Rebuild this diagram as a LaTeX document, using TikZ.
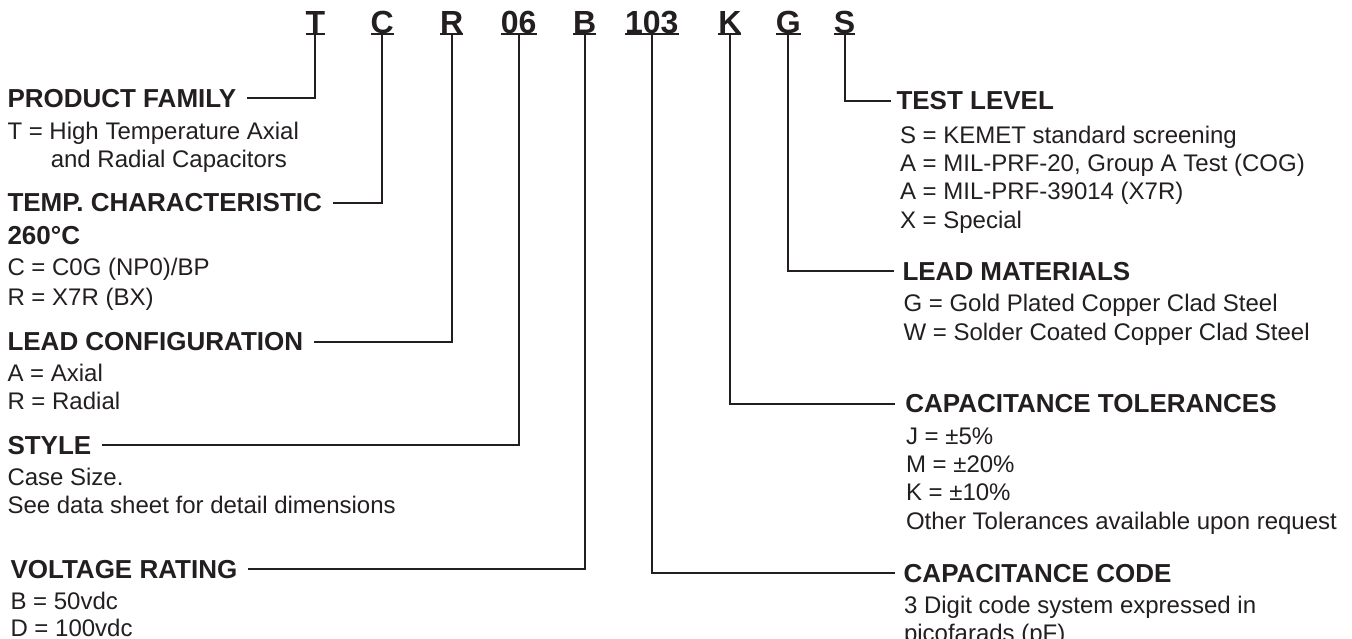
\documentclass[tikz,border=0pt]{standalone}
\usepackage{fontspec}
\setmainfont{Liberation Sans}
\definecolor{ink}{HTML}{231F20}
\begin{document}
\begin{tikzpicture}[x=1pt,y=-1pt,
  every node/.style={inner sep=0pt, outer sep=0pt, anchor=base west, text=ink},
  hd/.style={font=\fontsize{26}{30}\selectfont\bfseries},
  bd/.style={font=\fontsize{24}{28}\selectfont},
  codelet/.style={anchor=base, font=\fontsize{32}{36}\selectfont\bfseries},
  conn/.style={draw=ink, line width=2pt, shorten >=11pt},
  ul/.style={draw=ink, line width=2pt}]
\useasboundingbox[fill=white] (0,0) rectangle (1352,639);

% code letters
\node[codelet] (cT) at (315.4,33.3) {T};
\node[codelet] (cC) at (382.2,33.3) {C};
\node[codelet] (cR) at (451.7,33.3) {R};
\node[codelet] (c06) at (518.7,33.3) {06};
\node[codelet] (cB) at (584.6,33.3) {B};
\node[codelet] (c103) at (651.8,33.3) {103};
\node[codelet] (cK) at (729.8,33.3) {K};
\node[codelet] (cG) at (788.3,33.3) {G};
\node[codelet] (cS) at (844.6,33.3) {S};
\foreach \n in {cT,cC,cR,c06,cB,c103,cK,cG,cS}
  \draw[ul] ([yshift=-1pt]\n.base west) -- ([yshift=-1pt]\n.base east);

% left column
\node[hd] (pf) at (7.5,107.3) {PRODUCT FAMILY};
\node[bd] (pf1) at (7.5,139.3) {T = High Temperature Axial};
\node[bd] (pf2) at (50.8,167.3) {and Radial Capacitors};
\node[hd] (tc) at (7.5,211.7) {TEMP. CHARACTERISTIC};
\node[hd] (tc0) at (7.5,244) {260°C};
\node[bd] (tc1) at (7.5,276) {C = C0G (NP0)/BP};
\node[bd] (tc2) at (7.5,305) {R = X7R (BX)};
\node[hd] (lc) at (7.5,350.5) {LEAD CONFIGURATION};
\node[bd] (lc1) at (7.5,381.7) {A = Axial};
\node[bd] (lc2) at (7.5,409.3) {R = Radial};
\node[hd] (st) at (7.5,454) {STYLE};
\node[bd] (st1) at (7.5,485) {Case Size.};
\node[bd] (st2) at (7.5,513.3) {See data sheet for detail dimensions};
\node[hd] (vr) at (10.5,578.3) {VOLTAGE RATING};
\node[bd] (vr1) at (10.5,609.3) {B = 50vdc};
\node[bd] (vr2) at (10.5,636.7) {D = 100vdc};

% right column
\node[hd] (tl) at (896.5,110) {TEST LEVEL};
\node[bd] (tl1) at (900,143.3) {S = KEMET standard screening};
\node[bd] (tl2) at (900,171.6) {A = MIL-PRF-20, Group A Test (COG)};
\node[bd] (tl3) at (900,199.9) {A = MIL-PRF-39014 (X7R)};
\node[bd] (tl4) at (900,228.2) {X = Special};
\node[hd] (lm) at (902.5,280) {LEAD MATERIALS};
\node[bd] (lm1) at (903.5,311.7) {G = Gold Plated Copper Clad Steel};
\node[bd] (lm2) at (903.5,340) {W = Solder Coated Copper Clad Steel};
\node[hd] (ct) at (905.4,412.5) {CAPACITANCE TOLERANCES};
\node[bd] (ct1) at (906,444) {J = ±5\%};
\node[bd] (ct2) at (906,472.4) {M = ±20\%};
\node[bd] (ct3) at (906,500.8) {K = ±10\%};
\node[bd] (ct4) at (906,529) {Other Tolerances available upon request};
\node[hd] (cc) at (903.7,582) {CAPACITANCE CODE};
\node[bd] (cc1) at (904,613) {3 Digit code system expressed in};
\node[bd] (cc2) at (904,641.5) {picofarads (pF)};

% connectors
\draw[conn] ([yshift=-1pt]cT.base) |- (pf.east);
\draw[conn] ([yshift=-1pt]cC.base) |- (tc.east);
\draw[conn] ([yshift=-1pt]cR.base) |- (lc.east);
\draw[conn] ([yshift=-1pt]c06.base) |- (st.east);
\draw[conn] ([yshift=-1pt]cB.base) |- (vr.east);
\draw[conn, shorten >=6pt] ([yshift=-1pt]cS.base) |- (tl.west);
\draw[conn, shorten >=9pt] ([yshift=-1pt]cG.base) |- (lm.west);
\draw[conn, shorten >=10pt] ([yshift=-1pt]cK.base) |- (ct.west);
\draw[conn, shorten >=9pt] ([yshift=-1pt]c103.base) |- (cc.west);
\end{tikzpicture}
\end{document}
